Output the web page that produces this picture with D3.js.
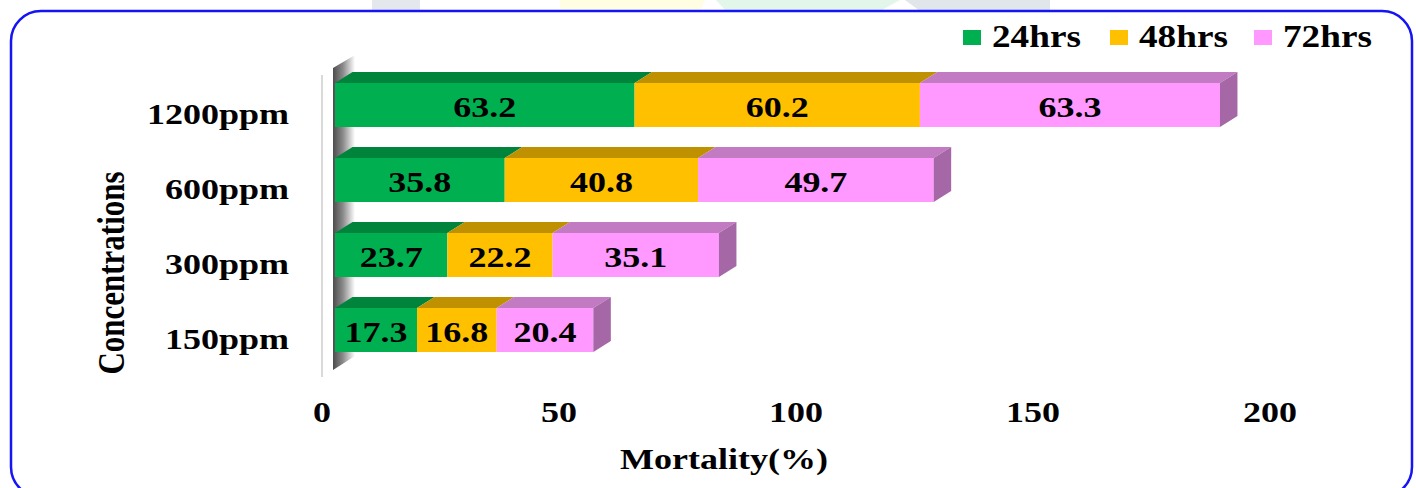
<!DOCTYPE html>
<html>
<head>
<meta charset="utf-8">
<script src="https://cdn.jsdelivr.net/npm/d3@7"></script>
<style>
  html, body { margin: 0; padding: 0; background: #ffffff; }
  svg { display: block; }
  text { font-family: "Liberation Serif", "Times New Roman", serif; font-weight: bold; fill: #000; }
</style>
</head>
<body>
<svg id="chart" width="1416" height="488"></svg>
<script>
// Mortality data per concentration and exposure time
const categories = ["1200ppm", "600ppm", "300ppm", "150ppm"];
const seriesNames = ["24hrs", "48hrs", "72hrs"];
const values24 = [63.2, 35.8, 23.7, 17.3];
const values48 = [60.2, 40.8, 22.2, 16.8];
const values72 = [63.3, 49.7, 35.1, 20.4];
const xTicks = [0, 50, 100, 150, 200];

const seriesValues = [values24, values48, values72];
const frontColors = ["#00b050", "#ffc000", "#ff99ff"];
const topColors   = ["#00843c", "#bf9000", "#c27bc2"];
const sideColors  = ["#006d31", "#a07800", "#a567a6"];

const svg = d3.select("#chart");
const STRETCH = 1.2;          // wide type used throughout the figure
const DX = 17.5, DY = 11;     // 3D depth offset

// Pale background shapes peeking above the frame
const bgShapes = [
  { d: "M372,0 L420,0 L420,11 L372,11 Z", c: "#e4e8ec" },
  { d: "M560,0 L705,0 L700,11 L560,11 Z", c: "#fffde2" },
  { d: "M716,0 L900,0 L880,11 L726,11 Z", c: "#e2f6ea" },
  { d: "M905,0 L1050,0 L1050,11 L920,11 Z", c: "#e1e6ea" }
];
svg.selectAll("path.bg").data(bgShapes).join("path")
  .attr("class", "bg").attr("d", d => d.d).attr("fill", d => d.c);

// Rounded frame
svg.append("rect")
  .attr("x", 11).attr("y", 11)
  .attr("width", 1401).attr("height", 486)
  .attr("rx", 30).attr("ry", 30)
  .attr("fill", "#fff")
  .attr("stroke", "#1414f5").attr("stroke-width", 2.5);

// Scales
const x = d3.scaleLinear().domain([0, 200]).range([335, 1283]);
const y = d3.scaleBand().domain(categories).range([83, 352])
  .paddingInner(0.4133).paddingOuter(0);

function stext(g, px, py, str, size, anchor) {
  return g.append("text")
    .attr("transform", `translate(${px},${py}) scale(${STRETCH},1)`)
    .attr("text-anchor", anchor)
    .style("font-size", size + "px")
    .text(str);
}

// Side wall with shading
const defs = svg.append("defs");
const wallGrad = defs.append("linearGradient").attr("id", "wallGrad")
  .attr("x1", "0%").attr("x2", "100%").attr("y1", "0%").attr("y2", "0%");
wallGrad.append("stop").attr("offset", "0%").attr("stop-color", "#4d4d4d");
wallGrad.append("stop").attr("offset", "45%").attr("stop-color", "#8a8a8a");
wallGrad.append("stop").attr("offset", "100%").attr("stop-color", "#ffffff");

svg.append("line")
  .attr("x1", 322).attr("x2", 322).attr("y1", 75).attr("y2", 377)
  .attr("stroke", "#d9d9d9").attr("stroke-width", 2);

svg.append("path")
  .attr("d", "M333,68 L355,55 L355,356 L333,370 Z")
  .attr("fill", "url(#wallGrad)");

// Stacked 3D bars
const axisG = svg.append("g");
categories.forEach((cat, i) => {
  const top = y(cat), h = y.bandwidth();
  let cum = 0;
  seriesValues.forEach((vals, s) => {
    const v = vals[i];
    const x0 = x(cum), x1 = x(cum + v);
    cum += v;
    // top face
    svg.append("path")
      .attr("d", `M${x0},${top} L${x1},${top} L${x1 + DX},${top - DY} L${x0 + DX},${top - DY} Z`)
      .attr("fill", topColors[s]);
    // front face
    svg.append("rect")
      .attr("x", x0).attr("y", top)
      .attr("width", x1 - x0).attr("height", h)
      .attr("fill", frontColors[s]);
    // right side on the last segment
    if (s === seriesValues.length - 1) {
      svg.append("path")
        .attr("d", `M${x1},${top} L${x1 + DX},${top - DY} L${x1 + DX},${top + h - DY} L${x1},${top + h} Z`)
        .attr("fill", sideColors[s]);
    }
    // value label
    stext(svg, (x0 + x1) / 2, top + 34, v.toFixed(1), 30, "middle");
  });
  // category label
  stext(svg, 289, top + 41, cat, 30, "end");
});

// X tick labels (drawn at the back plane)
xTicks.forEach(t => {
  stext(axisG, x(t) - 13, 422, d3.format("d")(t), 30, "middle");
});

// Axis titles
stext(svg, 724, 469, "Mortality(%)", 30, "middle");
svg.append("text")
  .attr("transform", `translate(124,273) rotate(-90) scale(1,${STRETCH})`)
  .attr("text-anchor", "middle")
  .style("font-size", "31px")
  .text("Concentrations");

// Legend
const legendX = [963, 1110, 1254];
seriesNames.forEach((name, s) => {
  svg.append("rect")
    .attr("x", legendX[s]).attr("y", 30)
    .attr("width", 18).attr("height", 15)
    .attr("fill", frontColors[s]);
  stext(svg, legendX[s] + 29, 47, name, 31, "start");
});
</script>
</body>
</html>
